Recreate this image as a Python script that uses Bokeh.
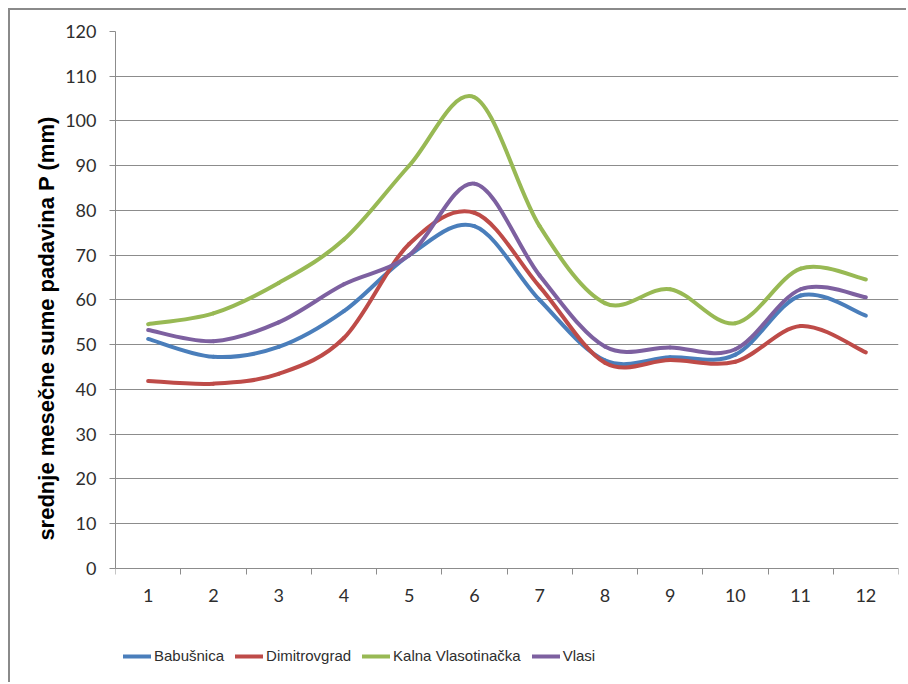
import numpy as np
from bokeh.plotting import figure
from bokeh.models import Range1d, FixedTicker, Legend, LegendItem, ColumnDataSource
from bokeh.embed import file_html
from bokeh.resources import INLINE

# ---- data ----
months = [1, 2, 3, 4, 5, 6, 7, 8, 9, 10, 11, 12]
month_labels = ["1", "2", "3", "4", "5", "6", "7", "8", "9", "10", "11", "12"]
babusnica = [51.3, 47.3, 49.5, 57.5, 70.0, 76.5, 60.0, 46.5, 47.2, 47.8, 61.0, 56.5]
dimitrovgrad = [41.9, 41.3, 43.5, 51.5, 72.5, 79.5, 63.0, 46.0, 46.6, 46.2, 54.2, 48.3]
kalna = [54.6, 57.0, 63.8, 73.5, 90.0, 105.3, 76.5, 59.3, 62.4, 54.8, 67.0, 64.6]
vlasi = [53.3, 50.8, 55.0, 63.5, 70.0, 86.0, 65.5, 49.6, 49.4, 49.0, 62.4, 60.6]
series_names = ["Babušnica", "Dimitrovgrad", "Kalna Vlasotinačka", "Vlasi"]
y_ticks = [0, 10, 20, 30, 40, 50, 60, 70, 80, 90, 100, 110, 120]
y_title = "srednje mesečne sume padavina P (mm)"

colors = ["#4A7EBB", "#BE4B48", "#98B954", "#7D60A0"]
GRID = "#8c8c8c"
TXT = "#2e2e2e"

# the frame reaches down to the legend; the value axis runs 0..120 inside it
p = figure(width=898, height=674, output_backend="svg", toolbar_location=None,
           x_range=Range1d(0.5, 12.5), y_range=Range1d(-25.03, 120),
           min_border_left=105, min_border_right=10, min_border_top=21,
           min_border_bottom=4)
p.styles = {"margin-left": "8px", "margin-top": "8px",
            "border-left": "2px solid #8a8a8a", "border-top": "2px solid #8a8a8a"}
p.outline_line_color = None
p.background_fill_color = "white"
p.border_fill_color = "white"

# category axis, fixed at value 0
xa = p.xaxis[0]
xa.fixed_location = 0
xa.ticker = FixedTicker(ticks=months, minor_ticks=[m - 0.5 for m in months] + [months[-1] + 0.5])
xa.major_label_overrides = {m: lab for m, lab in zip(months, month_labels)}
xa.major_tick_out = 0
xa.major_tick_in = 0
xa.minor_tick_out = 6
xa.minor_tick_in = 0
xa.minor_tick_line_color = GRID
xa.axis_line_color = GRID
xa.major_label_standoff = 15
xa.major_label_text_font = "Lato"
xa.major_label_text_font_size = "18px"
xa.major_label_text_color = TXT

ya = p.yaxis[0]
ya.bounds = (y_ticks[0], y_ticks[-1])
ya.ticker = FixedTicker(ticks=y_ticks, minor_ticks=[])
ya.major_tick_out = 6
ya.major_tick_in = 0
ya.major_tick_line_color = GRID
ya.axis_line_color = GRID
ya.minor_tick_line_color = None
ya.major_label_standoff = 13
ya.major_label_text_font = "Lato"
ya.major_label_text_font_size = "18px"
ya.major_label_text_color = TXT
# leading no-break spaces shift the centred title upward, as in the reference
ya.axis_label = "\u00a0" * 9 + y_title
ya.axis_label_text_font = "Liberation Sans"
ya.axis_label_text_font_style = "bold"
ya.axis_label_text_font_size = "22px"
ya.axis_label_text_color = "black"
ya.axis_label_standoff = 3

p.xgrid.grid_line_color = None
p.ygrid.grid_line_color = GRID
p.ygrid.grid_line_width = 1


def smooth_segments(xv, yv):
    """Catmull-Rom style Bezier control points (Excel 'smoothed line')."""
    pts = np.column_stack([np.asarray(xv, float), np.asarray(yv, float)])
    n = len(pts)
    d = dict(x0=[], y0=[], x1=[], y1=[], cx0=[], cy0=[], cx1=[], cy1=[])
    for i in range(n - 1):
        p0 = pts[i - 1] if i > 0 else pts[i]
        p1 = pts[i]
        p2 = pts[i + 1]
        p3 = pts[i + 2] if i + 2 < n else pts[i + 1]
        c1 = p1 + (p2 - p0) / 6.0
        c2 = p2 - (p3 - p1) / 6.0
        d["x0"].append(p1[0]); d["y0"].append(p1[1])
        d["x1"].append(p2[0]); d["y1"].append(p2[1])
        d["cx0"].append(c1[0]); d["cy0"].append(c1[1])
        d["cx1"].append(c2[0]); d["cy1"].append(c2[1])
    return ColumnDataSource(d)


items = []
for name, vals, col in zip(series_names, [babusnica, dimitrovgrad, kalna, vlasi], colors):
    src = smooth_segments(months, vals)
    r = p.bezier(x0="x0", y0="y0", x1="x1", y1="y1", cx0="cx0", cy0="cy0",
                 cx1="cx1", cy1="cy1", source=src, line_color=col, line_width=4,
                 line_cap="round")
    items.append(LegendItem(label=name, renderers=[r]))

legend = Legend(items=items, location=(8, 16), orientation="horizontal",
                border_line_alpha=0, background_fill_alpha=0, padding=0, margin=0,
                spacing=11, glyph_width=28, glyph_height=16, label_standoff=3,
                label_text_font="Liberation Sans",
                label_text_font_size="15px", label_text_color=TXT)
p.add_layout(legend)

open("out.html", "w").write(file_html(p, INLINE))
